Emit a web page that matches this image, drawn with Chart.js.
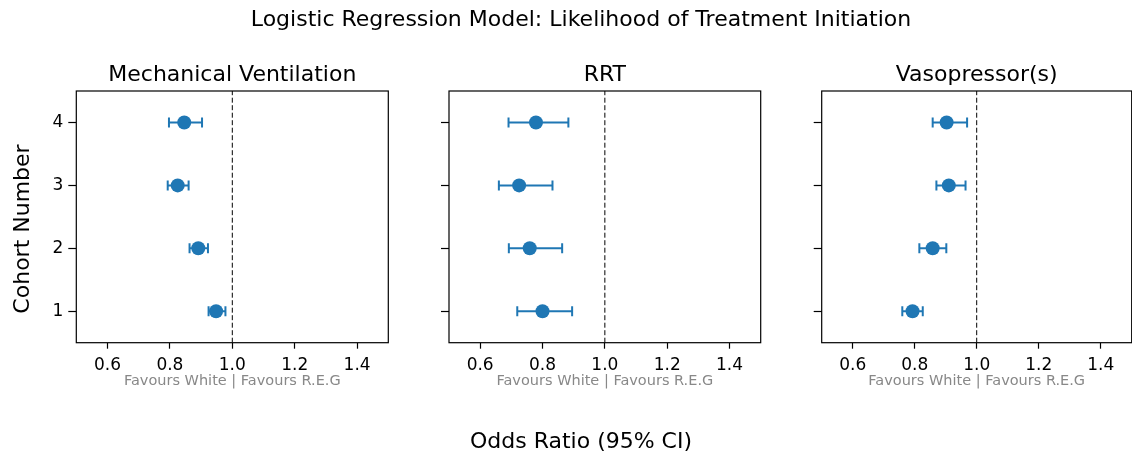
<!DOCTYPE html>
<html>
<head>
<meta charset="utf-8">
<script src="https://cdn.jsdelivr.net/npm/chart.js@4.4.1/dist/chart.umd.min.js"></script>
<style>
  body { margin: 0; background: #fff; }
  #wrap { position: relative; width: 1132px; height: 459px; overflow: hidden; }
  #wrap canvas { position: absolute; left: 0; top: 0; }
</style>
</head>
<body>
<div id="wrap">
  <canvas id="panelMV" width="1132" height="459"></canvas>
  <canvas id="panelRRT" width="1132" height="459"></canvas>
  <canvas id="panelVaso" width="1132" height="459"></canvas>
</div>
<script>
// data, cohorts 1..4
const cohorts = [1, 2, 3, 4];
const xTicks = [0.6, 0.8, 1.0, 1.2, 1.4];
const refOR = 1.0;

const mvOR   = [0.948, 0.891, 0.825, 0.846];
const mvLow  = [0.924, 0.863, 0.793, 0.797];
const mvHigh = [0.978, 0.922, 0.860, 0.903];

const rrtOR   = [0.800, 0.759, 0.725, 0.779];
const rrtLow  = [0.719, 0.692, 0.660, 0.691];
const rrtHigh = [0.895, 0.863, 0.832, 0.883];

const vasoOR   = [0.793, 0.858, 0.910, 0.903];
const vasoLow  = [0.760, 0.815, 0.870, 0.858];
const vasoHigh = [0.826, 0.902, 0.964, 0.969];

const blue = '#1f77b4';
const font = "'DejaVu Sans', sans-serif";

Chart.defaults.color = '#000';
Chart.defaults.font.family = font;

// box around the plot area + panel title, like matplotlib axes
const frame = {
  id: 'frame',
  afterDraw(chart, args, opts) {
    const a = chart.chartArea, ctx = chart.ctx;
    ctx.save();
    ctx.strokeStyle = '#000';
    ctx.lineWidth = 1.2;
    ctx.strokeRect(a.left, a.top, a.right - a.left, a.bottom - a.top);
    ctx.fillStyle = '#000';
    ctx.font = '22px ' + font;
    ctx.textAlign = 'center';
    ctx.textBaseline = 'alphabetic';
    ctx.fillText(opts.text, (a.left + a.right) / 2, a.top - 10);
    ctx.restore();
  }
};

// figure level texts (suptitle, shared labels)
const figText = {
  id: 'figText',
  afterDraw(chart) {
    const ctx = chart.ctx;
    ctx.save();
    ctx.fillStyle = '#000';
    ctx.textAlign = 'center';
    ctx.textBaseline = 'alphabetic';
    ctx.font = '22px ' + font;
    ctx.fillText('Logistic Regression Model: Likelihood of Treatment Initiation', 581, 26);
    ctx.fillText('Odds Ratio (95% CI)', 581, 448);
    ctx.translate(29, 229);
    ctx.rotate(-Math.PI / 2);
    ctx.fillText('Cohort Number', 0, 0);
    ctx.restore();
  }
};

function makePanel(id, title, or, low, high, showY, left, right) {
  const datasets = [{
    data: cohorts.map((c, i) => ({ x: or[i], y: c })),
    pointRadius: 7,
    pointBackgroundColor: blue,
    pointBorderWidth: 0,
    showLine: false,
    order: 0
  }];
  cohorts.forEach((c, i) => {
    datasets.push({
      data: [{ x: low[i], y: c }, { x: high[i], y: c }],
      showLine: true,
      borderColor: blue,
      borderWidth: 2,
      pointStyle: 'line',
      pointRotation: 90,
      pointRadius: 5,
      pointBorderColor: blue,
      pointBorderWidth: 2,
      order: 1
    });
  });
  datasets.push({
    data: [{ x: refOR, y: 0.5 }, { x: refOR, y: 4.5 }],
    showLine: true,
    borderColor: '#000',
    borderWidth: 1,
    borderDash: [5, 2.5],
    pointRadius: 0,
    order: 2
  });

  return new Chart(document.getElementById(id), {
    type: 'scatter',
    data: { datasets: datasets },
    options: {
      responsive: false,
      animation: false,
      events: [],
      layout: { autoPadding: false, padding: { left: left - 40, right: 1132 - right, top: 91, bottom: 69.3 } },
      plugins: {
        legend: { display: false },
        tooltip: { enabled: false },
        title: { display: false },
        frame: { text: title }
      },
      scales: {
        x: {
          type: 'linear',
          min: 0.5,
          max: 1.5,
          afterBuildTicks: s => { s.ticks = xTicks.map(v => ({ value: v })); },
          afterFit: s => { s.height = 47; },
          ticks: {
            font: { size: 17 },
            color: '#000',
            padding: 7,
            maxRotation: 0,
            callback: v => v.toFixed(1)
          },
          grid: { display: true, drawOnChartArea: false, drawTicks: true, tickLength: 6, color: '#000', tickWidth: 1.2 },
          border: { display: false },
          title: {
            display: true,
            text: 'Favours White | Favours R.E.G',
            color: '#888',
            font: { size: 14.5 },
            padding: { top: 0, bottom: 0 }
          }
        },
        y: {
          type: 'linear',
          min: 0.5,
          max: 4.5,
          afterBuildTicks: s => { s.ticks = cohorts.map(v => ({ value: v })); },
          afterFit: s => { s.width = 40; },
          ticks: {
            font: { size: 17 },
            color: '#000',
            padding: 5,
            callback: v => showY ? String(v) : ''
          },
          grid: { display: true, drawOnChartArea: false, drawTicks: true, tickLength: 8, color: '#000', tickWidth: 1.2 },
          border: { display: false }
        }
      }
    },
    plugins: id === 'panelRRT' ? [frame, figText] : [frame]
  });
}

makePanel('panelMV', 'Mechanical Ventilation', mvOR, mvLow, mvHigh, true, 76.3, 388.3);
makePanel('panelRRT', 'RRT', rrtOR, rrtLow, rrtHigh, false, 449, 760.7);
makePanel('panelVaso', 'Vasopressor(s)', vasoOR, vasoLow, vasoHigh, false, 821.7, 1131.7);
</script>
</body>
</html>
